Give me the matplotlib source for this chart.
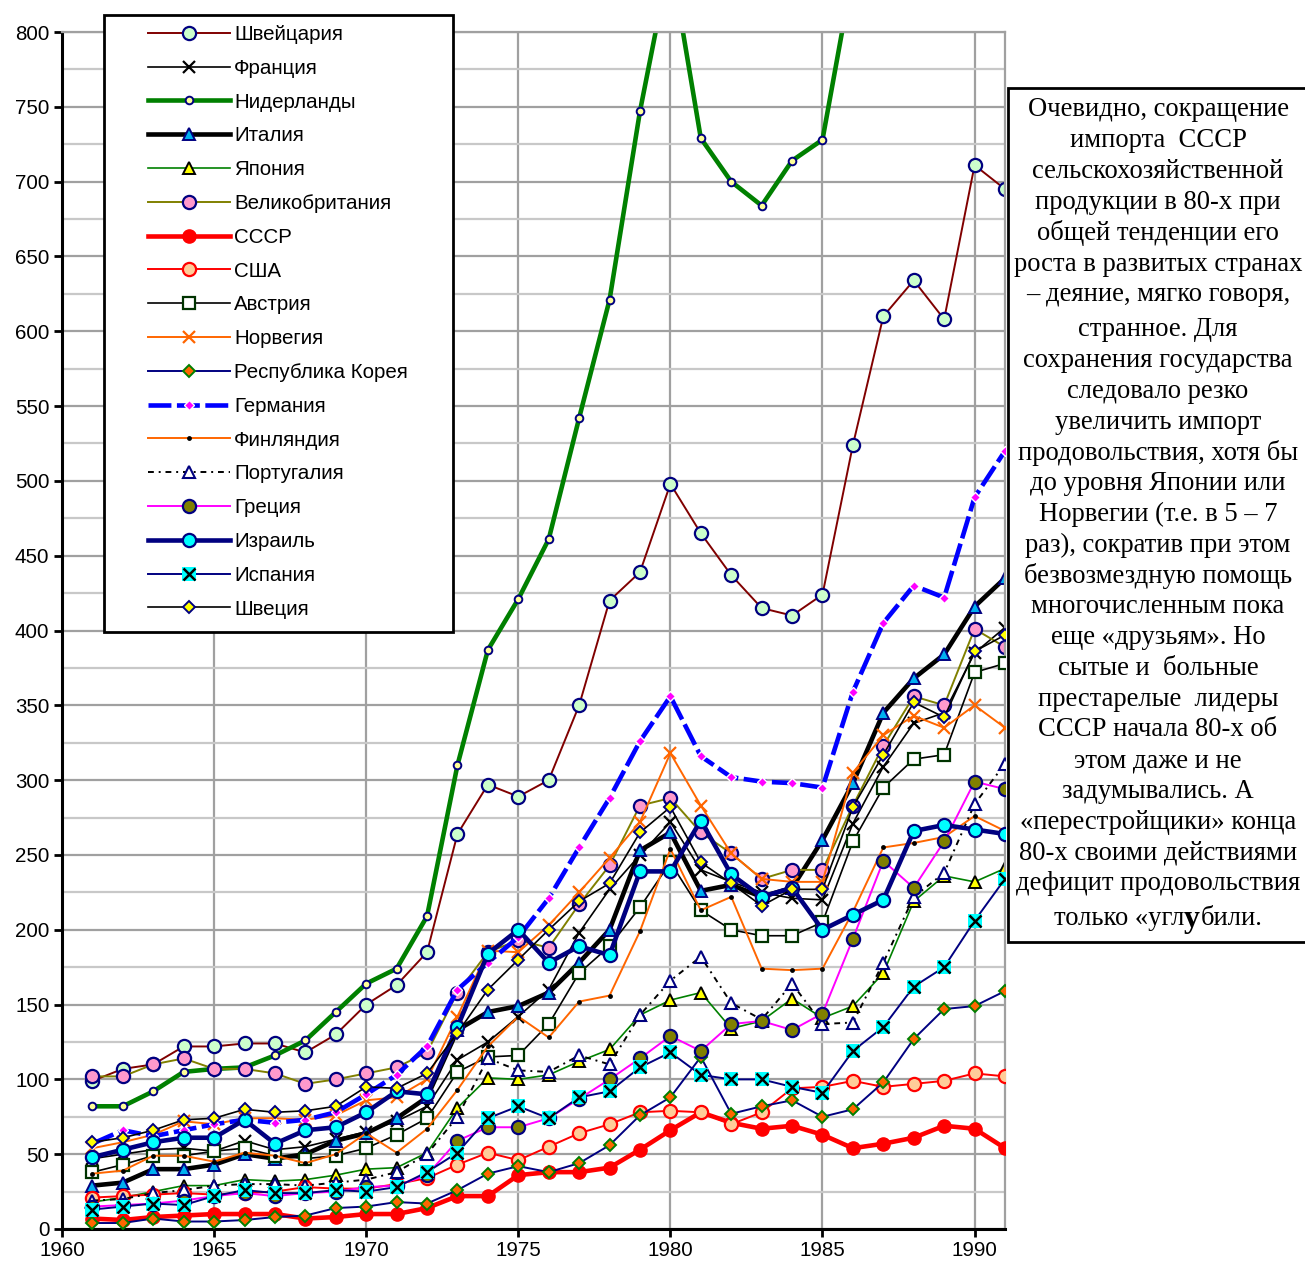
"""Agricultural import index by country, 1961-1991, with commentary box."""

import matplotlib
matplotlib.use("Agg")
import matplotlib.pyplot as plt
from matplotlib.patches import Rectangle

years = list(range(1961, 1992))

swiss = [99, 107, 110, 122, 122, 124, 124, 118, 130, 150, 163, 185, 264, 297, 289, 300,
         350, 420, 439, 498, 465, 437, 415, 410, 424, 524, 610, 634, 608, 711, 695]
france = [47, 50, 53, 54, 52, 59, 53, 55, 60, 65, 72, 82, 113, 125, 142, 160,
          198, 227, 250, 272, 240, 232, 225, 221, 220, 271, 309, 338, 345, 385, 402]
netherlands = [82, 82, 92, 105, 107, 108, 116, 126, 145, 164, 174, 209, 310, 387, 421, 461,
               542, 621, 747, 850, 729, 700, 684, 714, 728, 840, 900, 940, 960, 990, 1000]
italy = [29, 31, 40, 40, 43, 50, 47, 50, 59, 64, 74, 88, 133, 145, 149, 158,
         178, 200, 253, 265, 226, 230, 222, 228, 260, 298, 345, 368, 384, 416, 435]
japan = [18, 21, 25, 29, 29, 33, 32, 33, 36, 40, 41, 51, 81, 101, 100, 103,
         112, 120, 143, 153, 158, 134, 139, 154, 141, 149, 171, 219, 236, 232, 241]
uk = [102, 102, 110, 114, 107, 107, 104, 97, 100, 104, 108, 118, 158, 185, 193, 188,
      217, 243, 283, 288, 265, 251, 234, 240, 240, 283, 323, 356, 350, 401, 389]
ussr = [7, 6, 8, 9, 10, 10, 10, 7, 8, 10, 10, 14, 22, 22, 36, 38,
        38, 41, 53, 66, 78, 71, 67, 69, 63, 54, 57, 61, 69, 67, 54]
usa = [21, 22, 23, 24, 23, 24, 25, 28, 27, 27, 30, 34, 43, 51, 46, 55,
       64, 70, 78, 79, 78, 70, 78, 94, 95, 99, 95, 97, 99, 104, 102]
austria = [38, 43, 49, 49, 52, 54, 49, 47, 49, 54, 63, 74, 105, 115, 116, 137,
           171, 189, 215, 245, 213, 200, 196, 196, 205, 259, 295, 314, 317, 372, 378]
norway = [54, 58, 63, 72, 70, 74, 74, 73, 76, 86, 88, 100, 142, 186, 185, 203,
          225, 248, 272, 318, 283, 251, 234, 232, 232, 305, 330, 343, 335, 350, 335]
korea = [4, 4, 7, 5, 5, 6, 8, 9, 14, 15, 18, 17, 26, 37, 42, 38,
         44, 56, 76, 88, 115, 77, 82, 86, 75, 80, 98, 127, 147, 149, 159]
germany = [57, 66, 62, 66, 70, 73, 71, 73, 78, 90, 103, 122, 160, 178, 195, 221,
           255, 288, 326, 356, 316, 302, 299, 298, 295, 359, 405, 430, 422, 489, 520]
finland = [37, 39, 49, 49, 45, 51, 49, 44, 50, 64, 51, 67, 93, 122, 142, 128,
           152, 156, 199, 254, 213, 222, 174, 173, 174, 212, 255, 258, 262, 276, 266]
portugal = [19, 20, 24, 26, 29, 30, 30, 29, 31, 33, 38, 50, 75, 114, 106, 105,
            116, 110, 143, 166, 182, 151, 140, 164, 137, 138, 178, 222, 238, 284, 311]
greece = [15, 16, 17, 19, 22, 24, 22, 24, 25, 28, 29, 36, 59, 68, 68, 74,
          87, 100, 114, 129, 119, 137, 139, 133, 144, 194, 246, 228, 259, 299, 294]
israel = [48, 53, 58, 61, 61, 73, 57, 66, 68, 78, 92, 90, 135, 184, 200, 178,
          189, 183, 239, 239, 273, 237, 222, 228, 200, 210, 220, 266, 270, 267, 264]
spain = [13, 15, 17, 16, 22, 26, 24, 24, 26, 25, 28, 38, 51, 74, 82, 74,
         88, 92, 108, 118, 103, 100, 100, 95, 91, 119, 135, 162, 175, 206, 234]
sweden = [58, 61, 66, 73, 74, 80, 78, 79, 82, 95, 94, 104, 131, 160, 180, 200,
          219, 231, 265, 282, 245, 231, 216, 227, 227, 282, 317, 352, 342, 386, 397]

comment = [
    "Очевидно, сокращение",
    "импорта  СССР",
    "сельскохозяйственной",
    "продукции в 80-х при",
    "общей тенденции его",
    "роста в развитых странах",
    "– деяние, мягко говоря,",
    "странное. Для",
    "сохранения государства",
    "следовало резко",
    "увеличить импорт",
    "продовольствия, хотя бы",
    "до уровня Японии или",
    "Норвегии (т.е. в 5 – 7",
    "раз), сократив при этом",
    "безвозмездную помощь",
    "многочисленным пока",
    "еще «друзьям». Но",
    "сытые и  больные",
    "престарелые  лидеры",
    "СССР начала 80-х об",
    "этом даже и не",
    "задумывались. А",
    "«перестройщики» конца",
    "80-х своими действиями",
    "дефицит продовольствия",
]
last_line = [("только «угл", False), ("у", True), ("били.", False)]

NAVY = "#000080"
THIN, THICK = 1.4, 3.3

series = [
    ("Швейцария", swiss, dict(color="#800000", lw=THIN, marker="o", ms=9.5, mfc="#CCFFCC", mec=NAVY, mew=1.6)),
    ("Франция", france, dict(color="black", lw=1.2, marker="x", ms=9, mec="black", mew=1.6)),
    ("Нидерланды", netherlands, dict(color="#008000", lw=THICK, marker="o", ms=5.5, mfc="#FFFF99", mec=NAVY, mew=1.4)),
    ("Италия", italy, dict(color="black", lw=THICK, marker="^", ms=9, mfc="#00B0F0", mec=NAVY, mew=1.4)),
    ("Япония", japan, dict(color="#008000", lw=1.2, marker="^", ms=9, mfc="#FFFF00", mec="black", mew=1.4)),
    ("Великобритания", uk, dict(color="#808000", lw=THIN, marker="o", ms=9.5, mfc="#FF99CC", mec=NAVY, mew=1.6)),
    ("СССР", ussr, dict(color="#FF0000", lw=THICK, marker="o", ms=9.5, mfc="#FF0000", mec="#FF0000", mew=1)),
    ("США", usa, dict(color="#FF0000", lw=THIN, marker="o", ms=9.5, mfc="#FFCC99", mec="#FF0000", mew=1.6)),
    ("Австрия", austria, dict(color="black", lw=1.2, marker="s", ms=9, mfc="white", mec="#003300", mew=1.6)),
    ("Норвегия", norway, dict(color="#FF6600", lw=THIN, marker="x", ms=9, mec="#FF6600", mew=1.6)),
    ("Республика Корея", korea, dict(color=NAVY, lw=THIN, marker="D", ms=6, mfc="#FF6600", mec="#008000", mew=1.4)),
    ("Германия", germany, dict(color="#0000FF", lw=THICK, ls=(0, (5, 1.2)), marker="D", ms=5, mfc="#FF00FF", mec="white", mew=1)),
    ("Финляндия", finland, dict(color="#FF6600", lw=THIN, marker="o", ms=3.5, mfc="black", mec="black", mew=0)),
    ("Португалия", portugal, dict(color="black", lw=1.4, ls=(0, (3, 2.5, 1, 2.5)), marker="^", ms=9, mfc="white", mec=NAVY, mew=1.5)),
    ("Греция", greece, dict(color="#FF00FF", lw=THIN, marker="o", ms=9.5, mfc="#808000", mec=NAVY, mew=1.6)),
    ("Израиль", israel, dict(color=NAVY, lw=THICK, marker="o", ms=9.5, mfc="#00FFFF", mec=NAVY, mew=1.6)),
    ("Испания", spain, dict(color=NAVY, lw=THIN, marker="s", ms=10, mfc="#00FFFF", mec="#00FFFF", mew=0)),
    ("Швеция", sweden, dict(color="black", lw=1.2, marker="D", ms=6.5, mfc="#FFFF00", mec=NAVY, mew=1.4)),
]

plt.rcParams["font.family"] = ["Liberation Sans", "DejaVu Sans"]

fig = plt.figure(figsize=(13.05, 12.64), dpi=100)
ax = fig.add_axes([62 / 1305, 1 - 1229 / 1264, 943 / 1305, 1197 / 1264])

handles = []
for i, (name, values, style) in enumerate(series):
    line, = ax.plot(years, values, zorder=2 + i * 0.1, **style)
    if name == "Испания":
        cross, = ax.plot(years, values, ls="none", marker="x", ms=9, mec="black", mew=1.8,
                         zorder=2 + i * 0.1 + 0.05)
        handles.append((line, cross))
    else:
        handles.append(line)

ax.set_xlim(1960, 1991)
ax.set_ylim(0, 800)
ax.set_xticks(range(1960, 1991, 5))
ax.set_yticks(range(0, 801, 50))
ax.set_yticks(range(25, 800, 50), minor=True)
ax.grid(which="major", color="#a0a0a0", lw=1.6)
ax.grid(which="minor", axis="y", color="#c8c8c8", lw=1.6)
ax.set_axisbelow(True)
ax.tick_params(which="major", direction="out", length=6, width=2, labelsize=14.8, pad=3)
ax.tick_params(which="minor", length=0)
for side in ("left", "bottom"):
    ax.spines[side].set_linewidth(2.2)
for side in ("top", "right"):
    ax.spines[side].set_color("#a0a0a0")
    ax.spines[side].set_linewidth(1.6)

# legend box sits partly above the plot area
fig.add_artist(Rectangle((104 / 1305, 1 - 632 / 1264), 349 / 1305, 617 / 1264,
                         transform=fig.transFigure, fc="white", ec="black", lw=2, zorder=3))
fig.legend(handles, [s[0] for s in series], loc="upper left",
           bbox_to_anchor=(148 / 1305, 1 - 25 / 1264), frameon=False,
           fontsize=14.8, handlelength=4.0, handletextpad=0.2, labelspacing=0.72,
           borderpad=0, borderaxespad=0)

# commentary box, cut off by the right edge
fig.add_artist(Rectangle((1008 / 1305, 1 - 942 / 1264), 0.3, 854 / 1264,
                         transform=fig.transFigure, fc="white", ec="black", lw=2, zorder=3))
serif = ["Liberation Serif", "DejaVu Serif"]
y = 107
for text in comment:
    if text == "странное. Для":
        y += 4
    fig.text(1158 / 1305, 1 - y / 1264, text, ha="center", va="center_baseline",
             family=serif, fontsize=19.2, zorder=6)
    y += 30.8

y += 4
renderer = fig.canvas.get_renderer()
parts = []
for text, bold in last_line:
    t = fig.text(0, 1 - y / 1264, text, ha="left", va="center_baseline", family=serif,
                 fontsize=23 if bold else 19.2, fontweight="bold" if bold else "normal", zorder=6)
    parts.append(t)
widths = [t.get_window_extent(renderer).width for t in parts]
x = 1158 - sum(widths) / 2
for t, w in zip(parts, widths):
    t.set_x(x / 1305)
    x += w

fig.savefig("out.png", dpi=100)
